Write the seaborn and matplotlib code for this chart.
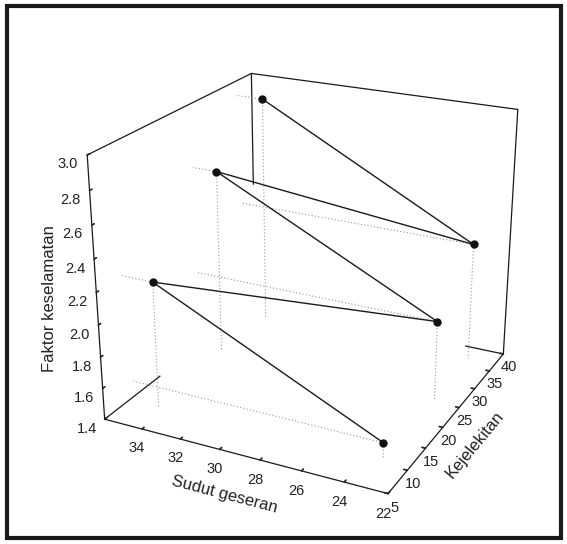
import matplotlib
matplotlib.use("Agg")
import matplotlib.pyplot as plt
import seaborn as sns
from matplotlib.patches import Rectangle

# Data
sudut_geseran = [23.3, 34.4, 23.3, 34.7, 23.4, 34.5]
kejelekitan = [11.0, 10.0, 25.5, 25.5, 37.0, 36.0]
faktor_keselamatan = [1.50, 2.20, 1.91, 2.60, 2.17, 2.91]

x_ticks = [22, 24, 26, 28, 30, 32, 34]
y_ticks = [5, 10, 15, 20, 25, 30, 35, 40]
z_ticks = [1.4, 1.6, 1.8, 2.0, 2.2, 2.4, 2.6, 2.8, 3.0]

x_lim = (36, 22)
y_lim = (5, 40)
z_lim = (1.4, 3.0)

sns.set_theme(style="white")
plt.rcParams['font.family'] = ['Liberation Sans', 'DejaVu Sans']

W, H = 567, 544
fig = plt.figure(figsize=(W / 100, H / 100), dpi=100)
cx, cy, side = 306, 270, 520
ax = fig.add_axes([(cx - side / 2) / W, (H - cy - side / 2) / H, side / W, side / H],
                  projection='3d', proj_type='persp', focal_length=0.5)
ax.set_facecolor('none')

# frame edges of the walls
edge_kw = dict(color='#1a1a1a', lw=0.9)
x0, x1 = x_lim
y0, y1 = y_lim
z0, z1 = z_lim
ax.plot([x0, x0], [y0, y1], [z1, z1], **edge_kw)      # left wall top
ax.plot([x0, x1], [y1, y1], [z1, z1], **edge_kw)      # back wall top
ax.plot([x1, x1], [y1, y1], [z1, z0], **edge_kw)      # back right vertical
ax.plot([x0, x0], [y1, y1], [z1, 2.25], **edge_kw)    # back left vertical (partly)
ax.plot([x0, x0], [y0, 16.5], [z0, z0], **edge_kw)    # floor left edge (partly)
ax.plot([x1, 24.0], [y1, y1], [z0, z0], **edge_kw)    # floor back edge (partly)

# drop lines to floor and to the left wall
for xi, yi, zi in zip(sudut_geseran, kejelekitan, faktor_keselamatan):
    ax.plot([xi, xi], [yi, yi], [zi, z0], ls=(0, (1, 2)), color='0.6', lw=0.8)
    ax.plot([xi, x0], [yi, yi], [zi, zi], ls=(0, (1, 2)), color='0.6', lw=0.8)

ax.plot(sudut_geseran, kejelekitan, faktor_keselamatan, color='#1a1a1a',
        lw=1.0, marker='o', ms=5, mfc='#111111', mec='#111111')

ax.set_xlim(*x_lim)
ax.set_ylim(*y_lim)
ax.set_zlim(*z_lim)
ax.set_xticks(x_ticks)
ax.set_yticks(y_ticks)
ax.set_zticks(z_ticks)
ax.set_xticklabels([str(v) for v in x_ticks])
ax.set_yticklabels([str(v) for v in y_ticks])
ax.set_zticklabels([f"{v:.1f}" for v in z_ticks])

ax.view_init(elev=23, azim=-63.6)
ax.set_box_aspect((1, 1.02, 0.9), zoom=0.965)
ax.grid(False)
ax.zaxis.set_ticks_position('lower')
ax.zaxis.set_label_position('lower')

for axis in (ax.xaxis, ax.yaxis, ax.zaxis):
    axis.pane.fill = False
    axis.pane.set_edgecolor('none')
    axis.line.set_color('#1a1a1a')
    axis.line.set_linewidth(0.9)
    axis._axinfo['tick']['inward_factor'] = 0.0
    axis._axinfo['tick']['outward_factor'] = 0.15
    axis._axinfo['tick']['color'] = '#1a1a1a'

ax.tick_params(axis='both', labelsize=10.5, colors='#222222', pad=-2)
ax.tick_params(axis='y', pad=-4)
ax.tick_params(axis='z', pad=0)
ax.set_xlabel('Sudut geseran', fontsize=12, color='#222222', labelpad=-2)
ax.set_ylabel('Kejelekitan', fontsize=12, color='#222222', labelpad=-4)
ax.zaxis.set_rotate_label(False)
ax.set_zlabel('Faktor keselamatan', fontsize=12, color='#222222',
              labelpad=-1, rotation=90)

fig.patches.append(Rectangle((6.5 / W, 6.5 / H), 554 / W, 532 / H,
                             transform=fig.transFigure, fill=False,
                             lw=3, ec='#1a1a1a'))

fig.savefig('out.png', dpi=100, facecolor='white')
